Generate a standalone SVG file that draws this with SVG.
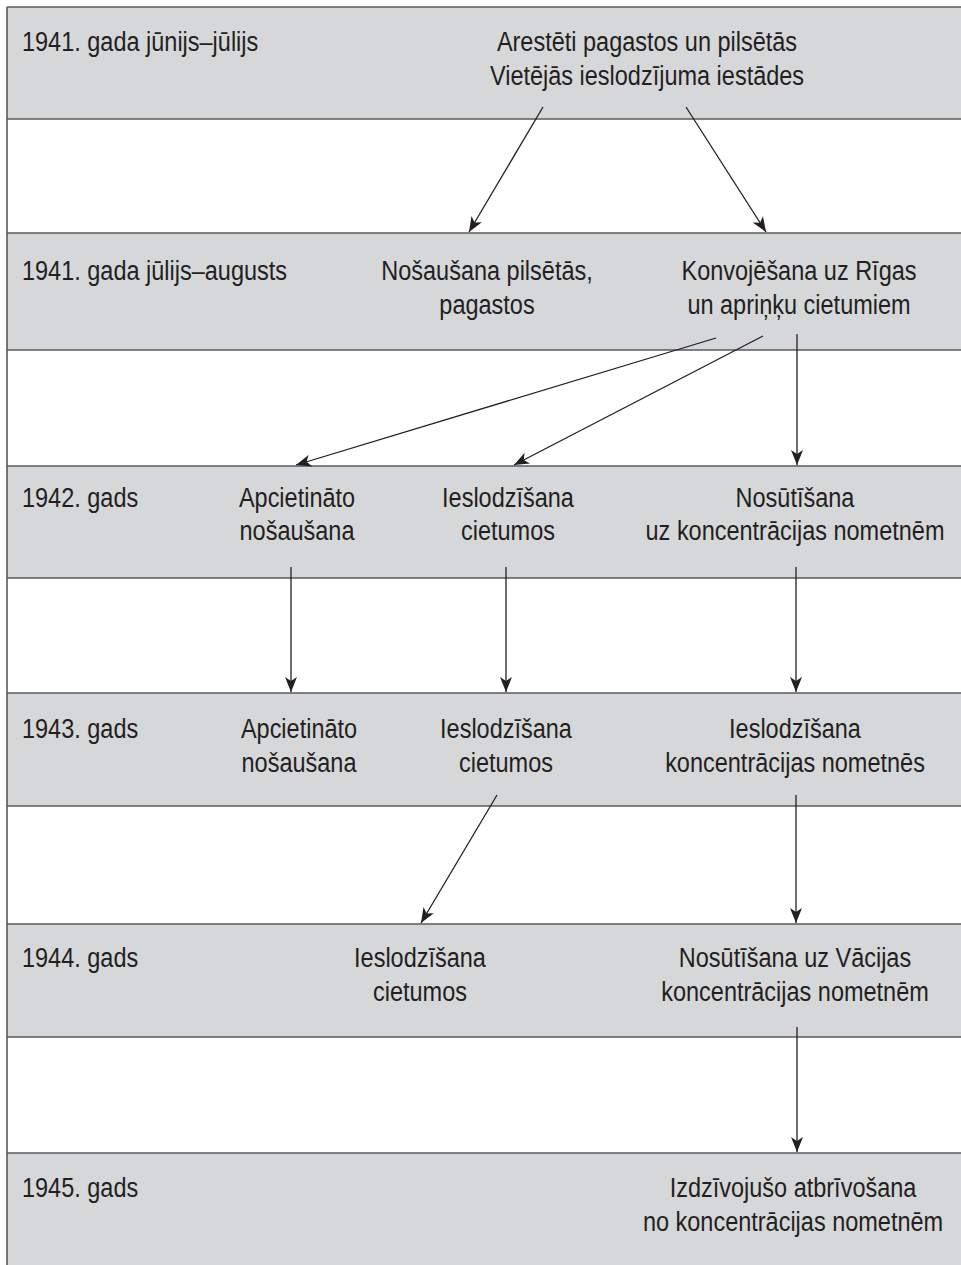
<svg xmlns="http://www.w3.org/2000/svg" width="961" height="1265" viewBox="0 0 961 1265">
<style>
.band{fill:#d6d7d9}
.hl{stroke:#5a5b5d;stroke-width:1.6;fill:none}
.t{font-family:"Liberation Sans",Arial,sans-serif;font-size:27px;fill:#231f20}
.c{text-anchor:middle}
.ar{stroke:#231f20;stroke-width:1.3;fill:none;marker-end:url(#ah)}
</style>
<defs>
<marker id="ah" markerWidth="16" markerHeight="12" refX="15" refY="6" orient="auto" markerUnits="userSpaceOnUse">
<path d="M0,0 L15,6 L0,12 L4,6 Z" fill="#231f20"/>
</marker>
</defs>
<rect width="961" height="1265" fill="#fff"/>
<g id="bands">
<rect class="band" x="7" y="7" width="954" height="112"/>
<rect class="band" x="7" y="233" width="954" height="117"/>
<rect class="band" x="7" y="466" width="954" height="112"/>
<rect class="band" x="7" y="693" width="954" height="113"/>
<rect class="band" x="7" y="924" width="954" height="113"/>
<rect class="band" x="7" y="1153" width="954" height="112"/>
<path class="hl" d="M7,7H961M7,119H961M7,233H961M7,350H961M7,466H961M7,578H961M7,693H961M7,806H961M7,924H961M7,1037H961M7,1153H961M7,7V1265"/>
</g>
<g id="row1941a">
<text class="t" transform="translate(22,51) scale(0.87,1)">1941. gada jūnijs–jūlijs</text>
</g>
<g id="arest">
<text class="t c" transform="translate(647,51) scale(0.87,1)">Arestēti pagastos un pilsētās</text>
<text class="t c" transform="translate(647,85) scale(0.87,1)">Vietējās ieslodzījuma iestādes</text>
</g>
<g id="row1941b">
<text class="t" transform="translate(22,280) scale(0.87,1)">1941. gada jūlijs–augusts</text>
</g>
<g id="nosausana1941">
<text class="t c" transform="translate(487,280) scale(0.87,1)">Nošaušana pilsētās,</text>
<text class="t c" transform="translate(487,314) scale(0.87,1)">pagastos</text>
</g>
<g id="konvojesana">
<text class="t c" transform="translate(799,280) scale(0.87,1)">Konvojēšana uz Rīgas</text>
<text class="t c" transform="translate(799,314) scale(0.87,1)">un apriņķu cietumiem</text>
</g>
<g id="row1942">
<text class="t" transform="translate(22,507) scale(0.87,1)">1942. gads</text>
</g>
<g id="apc1942">
<text class="t c" transform="translate(297,507) scale(0.87,1)">Apcietināto</text>
<text class="t c" transform="translate(297,540) scale(0.87,1)">nošaušana</text>
</g>
<g id="iesl1942">
<text class="t c" transform="translate(508,507) scale(0.87,1)">Ieslodzīšana</text>
<text class="t c" transform="translate(508,540) scale(0.87,1)">cietumos</text>
</g>
<g id="nosut1942">
<text class="t c" transform="translate(795,507) scale(0.87,1)">Nosūtīšana</text>
<text class="t c" transform="translate(795,540) scale(0.87,1)">uz koncentrācijas nometnēm</text>
</g>
<g id="row1943">
<text class="t" transform="translate(22,738) scale(0.87,1)">1943. gads</text>
</g>
<g id="apc1943">
<text class="t c" transform="translate(299,738) scale(0.87,1)">Apcietināto</text>
<text class="t c" transform="translate(299,772) scale(0.87,1)">nošaušana</text>
</g>
<g id="iesl1943">
<text class="t c" transform="translate(506,738) scale(0.87,1)">Ieslodzīšana</text>
<text class="t c" transform="translate(506,772) scale(0.87,1)">cietumos</text>
</g>
<g id="koncnom1943">
<text class="t c" transform="translate(795,738) scale(0.87,1)">Ieslodzīšana</text>
<text class="t c" transform="translate(795,772) scale(0.87,1)">koncentrācijas nometnēs</text>
</g>
<g id="row1944">
<text class="t" transform="translate(22,967) scale(0.87,1)">1944. gads</text>
</g>
<g id="iesl1944">
<text class="t c" transform="translate(420,967) scale(0.87,1)">Ieslodzīšana</text>
<text class="t c" transform="translate(420,1001) scale(0.87,1)">cietumos</text>
</g>
<g id="vacija1944">
<text class="t c" transform="translate(795,967) scale(0.87,1)">Nosūtīšana uz Vācijas</text>
<text class="t c" transform="translate(795,1001) scale(0.87,1)">koncentrācijas nometnēm</text>
</g>
<g id="row1945">
<text class="t" transform="translate(22,1197) scale(0.87,1)">1945. gads</text>
</g>
<g id="atbrivosana">
<text class="t c" transform="translate(793,1197) scale(0.87,1)">Izdzīvojušo atbrīvošana</text>
<text class="t c" transform="translate(793,1231) scale(0.87,1)">no koncentrācijas nometnēm</text>
</g>
<g id="connectors">
<line class="ar" x1="543" y1="107" x2="469" y2="232"/>
<line class="ar" x1="686" y1="107" x2="766" y2="232"/>
<line class="ar" x1="716" y1="338" x2="296" y2="465"/>
<line class="ar" x1="763" y1="336" x2="514" y2="465"/>
<line class="ar" x1="797" y1="334" x2="797" y2="465"/>
<line class="ar" x1="291" y1="567" x2="291" y2="692"/>
<line class="ar" x1="506" y1="567" x2="506" y2="692"/>
<line class="ar" x1="796" y1="567" x2="796" y2="692"/>
<line class="ar" x1="497" y1="795" x2="421" y2="923"/>
<line class="ar" x1="796" y1="795" x2="796" y2="923"/>
<line class="ar" x1="797" y1="1027" x2="797" y2="1152"/>
</g>
</svg>
